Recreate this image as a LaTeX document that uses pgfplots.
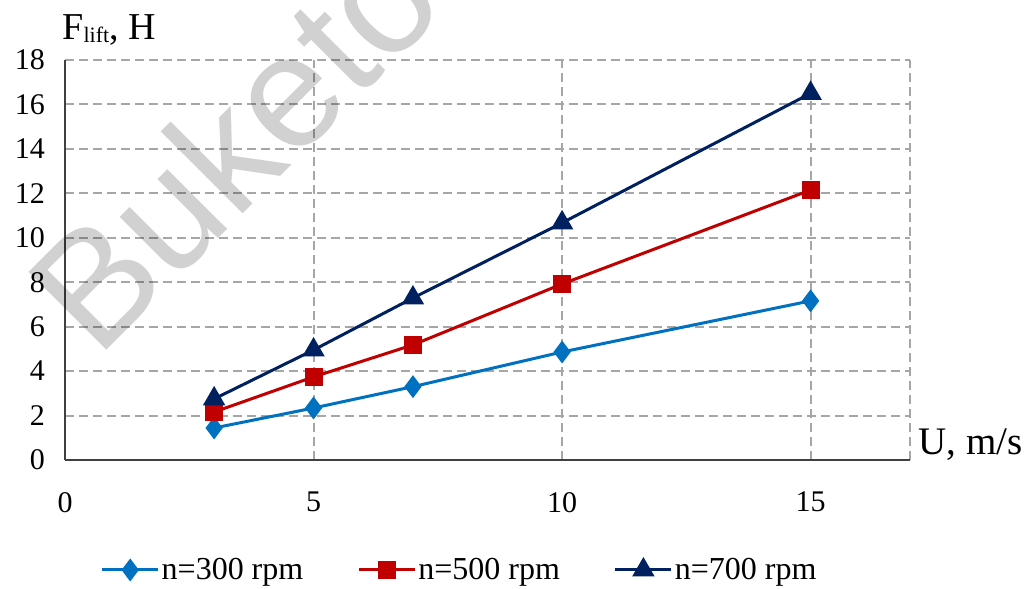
\documentclass[border=0pt]{standalone}
\usepackage{fontspec}
\setmainfont{Liberation Serif}
\newfontfamily\wmfont{Liberation Sans}
\usepackage{pgfplots}
\pgfplotsset{compat=1.18}
\definecolor{c300}{HTML}{0070C0}
\definecolor{c500}{HTML}{C00000}
\definecolor{c700}{HTML}{002060}
\definecolor{gridc}{HTML}{A6A6A6}
\definecolor{axc}{HTML}{404040}
\begin{document}
\begin{tikzpicture}
\begin{axis}[name=ax, at={(0,0)}, anchor=south west,
  scale only axis, width=422.5pt, height=200pt,
  xmin=0, xmax=17, ymin=0, ymax=18,
  axis x line*=bottom, axis y line*=left,
  axis line style={axc, line width=1.3pt, -},
  xtick={0,5,10,15}, ytick={0,2,...,18},
  minor xtick={5,10,15,17}, minor ytick={2,4,...,18},
  major tick length=0pt, minor tick length=0pt,
  grid=minor,
  minor grid style={gridc, line width=1pt, dash pattern=on 4.5pt off 2.5pt},
  /pgf/number format/assume math mode=true,
  ticklabel style={font=\fontsize{15}{18}\selectfont},
  xticklabel style={yshift=-12.5pt},
  yticklabel style={xshift=-6.5pt},
  clip=false,
  legend columns=3,
  legend style={at={(0.467,-0.275)}, anchor=center, draw=none, fill=none,
    font=\fontsize{16}{19}\selectfont,
    /tikz/every even column/.append style={column sep=26pt},
    nodes={inner xsep=1pt}},
  legend image code/.code={\draw[mark repeat=2,mark phase=2] plot coordinates {(0pt,0pt)(14pt,0pt)(28pt,0pt)};},
]
\addplot[c300, line width=1.5pt, mark=diamond*, mark size=4.5pt, mark options={solid}] coordinates {
 (3,1.44) (5,2.34) (7,3.3) (10,4.86) (15,7.16)};
\addlegendentry{n=300 rpm}
\addplot[c500, line width=1.5pt, mark=square*, mark size=3.75pt, mark options={solid}] coordinates {
 (3,2.16) (5,3.74) (7,5.18) (10,7.92) (15,12.15)};
\addlegendentry{n=500 rpm}
\addplot[c700, line width=1.5pt, mark=triangle*, mark size=5pt, mark options={solid}] coordinates {
 (3,2.75) (5,4.95) (7,7.29) (10,10.67) (15,16.5)};
\addlegendentry{n=700 rpm}
\end{axis}
\node[anchor=base west, inner sep=0pt, font=\fontsize{19.5}{23}\selectfont] at ([xshift=426.5pt,yshift=2.5pt]ax.south west) {U, m/s};
\node[anchor=base west, inner sep=0pt, font=\fontsize{19}{22}\selectfont] at ([xshift=-1.5pt,yshift=210pt]ax.south west) {F\raisebox{-1.5pt}{\fontsize{11}{13}\selectfont lift}, H};
\node[anchor=base west, inner sep=0pt, rotate=45, text=black, opacity=0.18, font=\wmfont\fontsize{80}{90}\selectfont] at ([xshift=16pt,yshift=50pt]ax.south west) {Buketov};
\pgfresetboundingbox
\path[use as bounding box, shift={(ax.south west)}] (-32.5pt,-64pt) rectangle (480.5pt,230pt);
\end{tikzpicture}
\end{document}
